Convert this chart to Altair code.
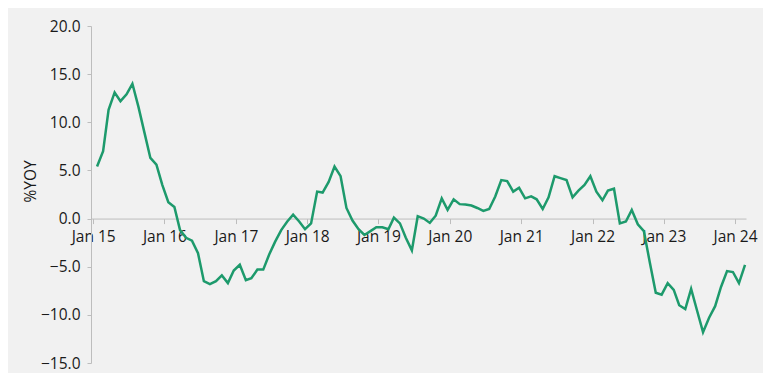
import altair as alt
import pandas as pd

# Monthly %YoY values, Jan 2015 .. Feb 2024
values = [
    5.4, 7.0, 11.3, 13.1, 12.2, 12.9, 14.0, 11.6, 8.9, 6.3, 5.6, 3.5,      # 2015
    1.7, 1.2, -1.2, -2.0, -2.3, -3.6, -6.5, -6.8, -6.5, -5.9, -6.7, -5.4,  # 2016
    -4.8, -6.4, -6.2, -5.3, -5.3, -3.7, -2.4, -1.2, -0.3, 0.4, -0.3, -1.1,  # 2017
    -0.5, 2.8, 2.7, 3.8, 5.4, 4.4, 1.1, -0.2, -1.1, -1.7, -1.3, -0.9,       # 2018
    -0.9, -1.1, 0.1, -0.5, -2.0, -3.3, 0.25, 0.0, -0.45, 0.3, 2.1, 0.9,     # 2019
    2.0, 1.5, 1.45, 1.35, 1.1, 0.8, 1.0, 2.3, 4.0, 3.9, 2.8, 3.2,           # 2020
    2.1, 2.3, 2.0, 1.0, 2.2, 4.4, 4.2, 4.0, 2.2, 2.9, 3.5, 4.4,             # 2021
    2.8, 1.9, 2.9, 3.1, -0.5, -0.3, 0.9, -0.6, -1.3, -4.5, -7.7, -7.9,      # 2022
    -6.7, -7.4, -9.0, -9.4, -7.3, -9.6, -11.8, -10.3, -9.1, -7.1, -5.45, -5.55,  # 2023
    -6.7, -4.8,                                                              # 2024
]
dates = (pd.date_range("2015-01-01", periods=len(values), freq="MS")
         + pd.Timedelta(days=20)).strftime("%Y-%m-%d").tolist()

tick_years = list(range(2015, 2025))
y_ticks = [-15, -10, -5, 0, 5, 10, 15, 20]
y_min, y_max = -15, 20

df = pd.DataFrame({"date": dates, "value": values})

plot_h = 337
zero_offset = -(0 - y_min) / (y_max - y_min) * plot_h

FONT = "Open Sans"
GREY = "#bdbdbd"
TXT = "#1a1a1a"
FS = 15.5

chart = alt.Chart(df).mark_line(color="#1d9a6c", strokeWidth=2.5).encode(
    x=alt.X(
        "date:T",
        scale=alt.Scale(type="utc", domain=["2014-12-21", "2024-02-26"]),
        axis=alt.Axis(
            values=[alt.DateTime(year=y, month=1, date=1, utc=True) for y in tick_years],
            labelExpr="utcFormat(datum.value, '%b %y')",
            title=None,
            grid=False,
            offset=zero_offset,
            domainColor=GREY,
            tickColor=GREY,
            tickSize=5,
            labelFont=FONT,
            labelFontSize=FS,
            labelColor=TXT,
            labelPadding=6,
            labelFlush=False,
        ),
    ),
    y=alt.Y(
        "value:Q",
        scale=alt.Scale(domain=[y_min, y_max], nice=False, zero=False),
        axis=alt.Axis(
            values=y_ticks,
            format=".1f",
            title="%YOY",
            grid=False,
            domainColor=GREY,
            tickColor=GREY,
            tickSize=4,
            labelFont=FONT,
            labelFontSize=FS,
            labelColor=TXT,
            labelPadding=7,
            titleFont=FONT,
            titleFontSize=FS,
            titleFontWeight="normal",
            titleColor=TXT,
            titleX=-61,
            titleY=155,
            titleBaseline="middle",
            titleAlign="center",
        ),
    ),
).properties(
    width=655,
    height=plot_h,
    background="#f1f1f1",
    padding={"left": 83, "top": 18, "right": 17, "bottom": 10},
    autosize=alt.AutoSizeParams(type="none"),
).configure_view(stroke=None)

chart.save("out.html", embed_options={"renderer": "svg", "actions": False})
